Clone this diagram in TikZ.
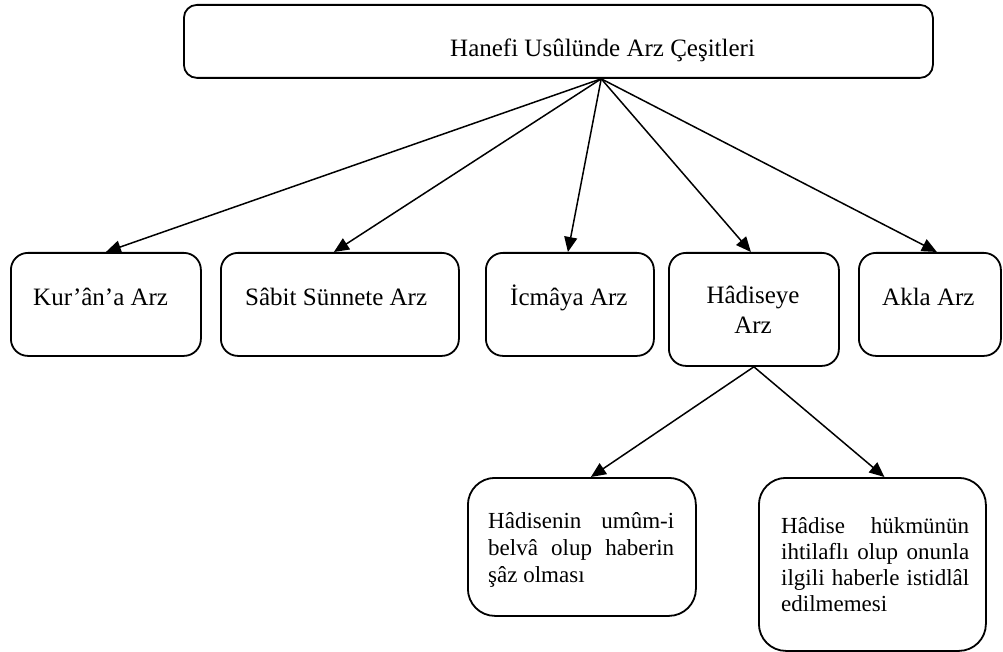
\documentclass[tikz,border=0pt]{standalone}
\usepackage{fontspec}
\setmainfont{Liberation Serif}
\usetikzlibrary{arrows.meta,calc}
\begin{document}
\begin{tikzpicture}[x=1pt,y=-1pt,
  box/.style={draw, line width=1.8pt, inner sep=0pt, anchor=north west, rounded corners=17pt},
  bigbox/.style={box, rounded corners=27pt},
  lbl/.style={inner sep=0pt, anchor=base west, font=\fontsize{25}{30}\selectfont},
  clbl/.style={lbl, anchor=base},
  small/.style={inner sep=0pt, anchor=base west, font=\fontsize{23}{27}\selectfont},
  arr/.style={line width=1.5pt, -{Triangle[length=15pt,width=13pt]}}]
\useasboundingbox (0,0) rectangle (1003,652);
% boxes
\node[box, rounded corners=13pt, minimum width=749pt, minimum height=73pt] (title) at (183,4) {};
\node[box, minimum width=190pt, minimum height=103pt] (k) at (10,252) {};
\node[box, minimum width=238pt, minimum height=103pt] (s) at (220,252) {};
\node[box, minimum width=168pt, minimum height=103pt] (i) at (485,252) {};
\node[box, minimum width=170pt, minimum height=113pt] (h) at (668,252) {};
\node[box, minimum width=142pt, minimum height=103pt] (a) at (858,252) {};
\node[bigbox, minimum width=228pt, minimum height=138pt] (bl) at (467,477) {};
\node[bigbox, minimum width=227pt, minimum height=173pt] (br) at (758,477) {};
% texts
\node[lbl] (tt) at (450,57) {Hanefi Usûlünde Arz Çeşitleri};
\node[lbl] (kt) at (33,305) {Kur’ân’a Arz};
\node[lbl] (st) at (245,305) {Sâbit Sünnete Arz};
\node[lbl] (it) at (510,305) {İcmâya Arz};
\node[clbl] (ht1) at (753,303) {Hâdiseye};
\node[clbl] (ht2) at (753,333) {Arz};
\node[lbl] (at) at (882,305) {Akla Arz};
\node[small] (l1) at (488,528) {\makebox[186pt][s]{Hâdisenin umûm-i}};
\node[small] (l2) at (488,555) {\makebox[186pt][s]{belvâ olup haberin}};
\node[small] (l3) at (488,582) {şâz olması};
\node[small] (r1) at (781,533) {\makebox[188pt][s]{Hâdise hükmünün}};
\node[small] (r2) at (781,559) {\makebox[188pt][s]{ihtilaflı olup onunla}};
\node[small] (r3) at (781,585) {\makebox[188pt][s]{ilgili haberle istidlâl}};
\node[small] (r4) at (781,611) {edilmemesi};
% connectors
\coordinate (hub) at ($(title.south west)!0.557!(title.south east)$);
\draw[arr] (hub) -- (k.north);
\draw[arr] (hub) -- ([xshift=-6pt]s.north);
\draw[arr] (hub) -- ([xshift=-2pt]i.north);
\draw[arr] (hub) -- ([xshift=-3pt]h.north);
\draw[arr] (hub) -- ([xshift=7pt]a.north);
\draw[arr] (h.south) -- ([xshift=9pt]bl.north);
\draw[arr] (h.south) -- ([xshift=12pt]br.north);
\end{tikzpicture}
\end{document}
